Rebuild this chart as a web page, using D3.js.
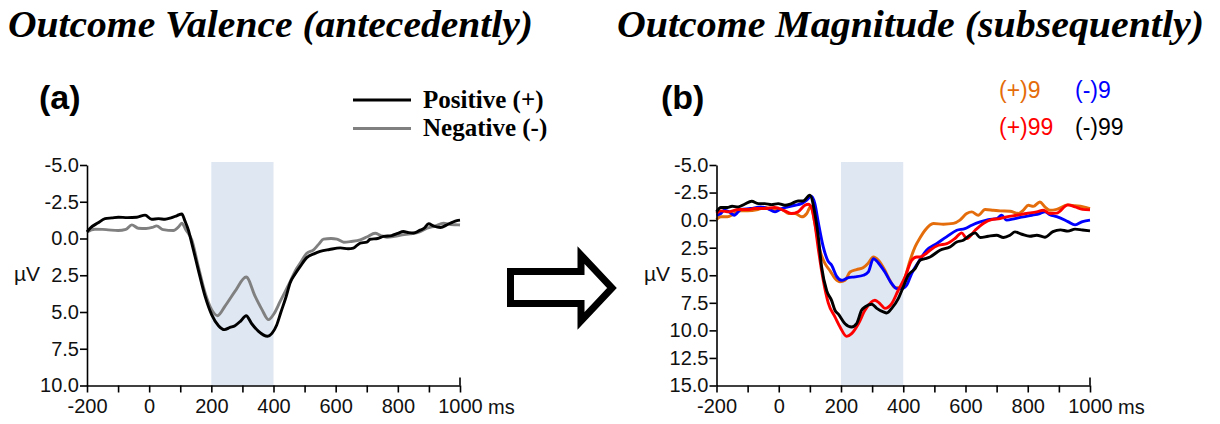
<!DOCTYPE html>
<meta charset="utf-8">
<style>
body { margin: 0; background: #fff; }
.tick text, .lbl { font-family: "Liberation Sans", Arial, sans-serif; font-size: 20px; fill: #111; }
.domain, .tick line { stroke: #000; stroke-width: 1.6px; }
.title { font-family: "Liberation Serif", "Times New Roman", serif; font-weight: bold; font-style: italic; font-size: 38px; }
.panel { font-family: "Liberation Sans", Arial, sans-serif; font-weight: bold; font-size: 34px; }
.leg { font-family: "Liberation Serif", "Times New Roman", serif; font-weight: bold; font-size: 25px; }
.leg2 { font-family: "Liberation Sans", Arial, sans-serif; font-size: 23px; }
.line { fill: none; stroke-width: 2.9px; stroke-linejoin: round; }
</style>
<body>
<script src="https://d3js.org/d3.v7.min.js"></script>
<script>

// ---- data (ms, µV) ----
var xTicks = [-200, 0, 200, 400, 600, 800, 1000];
var xMinor = d3.range(-200, 1001, 100);
var yTicksA = [-5, -2.5, 0, 2.5, 5, 7.5, 10];
var yTicksB = [-5, -2.5, 0, 2.5, 5, 7.5, 10, 12.5, 15];
var window_ms = [200, 400];

var positive = [[-200,-0.45],[-190,-0.7],[-164,-1.07],[-142,-1.35],[-120,-1.4],[-99,-1.45],[-70,-1.42],[-40,-1.45],[-13,-1.59],[8,-1.31],[30,-1.35],[51,-1.31],[70,-1.4],[90,-1.56],[105,-1.67],[115,-1.2],[126,-0.59],[137,0.31],[158,2.13],[180,3.94],[201,5.18],[223,5.93],[242,6.2],[260,6.05],[276,5.93],[295,5.6],[312,5.25],[330,5.8],[351,6.3],[381,6.65],[395,6.45],[410,5.9],[424,5.0],[440,4.0],[454,3.0],[470,2.4],[486,1.9],[507,1.3],[530,1.05],[550,0.88],[580,0.75],[615,0.64],[640,0.7],[657,0.65],[679,0.31],[700,0.25],[711,0.05],[735,0.0],[754,-0.14],[780,-0.2],[800,-0.35],[818,-0.48],[835,-0.4],[851,-0.37],[870,-0.55],[885,-0.7],[899,-1.0],[915,-0.85],[937,-0.75],[960,-0.95],[975,-1.1],[990,-1.22],[1000,-1.25]];

var negative = [[-200,-0.45],[-175,-0.63],[-150,-0.62],[-132,-0.59],[-100,-0.54],[-75,-0.62],[-56,-0.93],[-35,-0.7],[-10,-0.68],[10,-0.75],[24,-0.86],[45,-0.6],[78,-0.54],[95,-0.8],[105,-1.04],[118,-0.6],[137,0.09],[158,1.9],[180,3.7],[201,4.84],[220,5.25],[244,4.6],[276,3.6],[312,2.62],[341,3.94],[363,4.84],[384,5.52],[402,5.1],[421,4.3],[438,3.6],[454,2.92],[470,2.2],[486,1.67],[507,1.0],[529,0.77],[545,0.4],[561,0.04],[585,0.0],[604,0.04],[626,0.25],[650,0.2],[679,0.09],[700,-0.1],[727,-0.36],[745,-0.2],[765,-0.09],[790,-0.15],[815,-0.25],[840,-0.32],[870,-0.45],[894,-0.7],[920,-0.85],[947,-1.04],[970,-0.95],[995,-0.93],[1000,-0.92]];

var pos9 = [[-200,-0.05],[-186,-0.3],[-165,-0.3],[-143,-0.6],[-122,-0.84],[-100,-0.84],[-67,-0.96],[-45,-1.14],[-23,-0.96],[9,-0.96],[31,-0.6],[52,-0.6],[74,-0.3],[90,-0.6],[103,-1.26],[116,0.3],[130,2.5],[148,3.9],[165,4.6],[181,5.3],[197,5.6],[213,5.46],[229,4.7],[250,4.49],[272,4.3],[288,3.88],[304,3.34],[320,3.64],[341,4.55],[357,5.46],[374,6.12],[390,6.12],[406,5.15],[422,3.64],[438,2.43],[454,1.6],[470,0.92],[497,0.31],[529,0.37],[561,0.3],[582,0.0],[604,-0.6],[620,-0.75],[641,-0.44],[663,-0.96],[689,-0.9],[711,-0.84],[743,-0.8],[770,-0.6],[786,-0.9],[802,-1.35],[818,-1.25],[839,-1.65],[855,-1.2],[871,-0.9],[893,-0.98],[929,-1.38],[952,-1.3],[976,-1.22],[1000,-1.05]];

var neg9 = [[-200,-0.44],[-186,-0.6],[-175,-0.9],[-159,-0.75],[-143,-0.44],[-122,-0.96],[-90,-1.05],[-58,-1.2],[-36,-1.05],[-12,-0.75],[9,-1.05],[30,-1.2],[52,-1.35],[73,-1.5],[89,-1.8],[104,-2.17],[116,-1.5],[127,0.2],[143,2.43],[158,3.7],[170,4.1],[186,5.1],[202,5.46],[224,5.21],[245,5.15],[272,5.0],[288,4.7],[304,3.49],[320,3.88],[341,4.7],[363,5.76],[379,6.21],[395,6.21],[411,5.9],[427,4.85],[449,3.8],[475,2.73],[507,2.13],[539,1.52],[572,0.92],[598,0.77],[620,0.46],[647,0.16],[673,-0.05],[700,-0.14],[716,-0.44],[732,0.0],[759,-0.14],[786,-0.3],[813,-0.44],[839,-0.6],[855,-0.75],[871,-0.5],[893,-0.32],[929,0.13],[952,0.43],[976,0.13],[1000,0.0]];

var pos99 = [[-200,-0.6],[-186,-0.84],[-160,-0.75],[-130,-0.96],[-100,-0.96],[-78,-1.05],[-45,-1.05],[-13,-1.14],[20,-0.84],[41,-0.6],[62,-0.75],[84,-1.35],[95,-1.44],[106,-1.05],[116,0.3],[127,2.6],[143,5.45],[159,7.5],[181,8.8],[197,9.7],[218,10.54],[234,10.3],[256,9.4],[277,8.18],[309,7.27],[325,7.57],[341,8.0],[363,7.57],[384,6.36],[406,5.15],[427,3.64],[443,3.34],[454,3.34],[470,3.1],[486,2.73],[513,2.28],[540,2.13],[566,1.67],[588,1.16],[604,1.67],[631,0.92],[657,0.31],[684,-0.05],[711,-0.14],[732,-0.3],[764,-0.44],[796,-0.6],[829,-0.75],[850,-0.9],[871,-0.6],[893,-0.63],[929,-1.38],[952,-1.2],[976,-0.98],[1000,-0.93]];

var neg99 = [[-200,-0.75],[-186,-1.14],[-165,-1.14],[-150,-1.26],[-130,-1.2],[-110,-1.44],[-87,-1.71],[-65,-1.5],[-45,-1.5],[-23,-1.41],[-2,-1.5],[20,-1.35],[41,-1.5],[62,-1.74],[78,-1.74],[100,-2.26],[116,-0.6],[127,1.5],[138,4.3],[154,6.4],[170,7.3],[181,8.2],[191,8.5],[213,9.4],[234,9.7],[250,9.39],[266,8.18],[277,7.88],[299,7.63],[315,8.0],[336,8.33],[347,8.42],[363,8.0],[384,7.12],[400,6.06],[416,5.0],[438,4.4],[454,3.64],[470,3.5],[486,3.34],[518,2.73],[550,2.43],[572,1.98],[593,1.82],[614,1.37],[631,1.16],[647,1.58],[673,1.46],[700,1.37],[722,1.58],[743,1.37],[759,1.07],[781,1.28],[807,1.46],[829,1.37],[855,1.55],[881,1.04],[905,0.88],[929,1.0],[952,0.82],[976,0.9],[1000,0.97]];

var seriesA = [
  {name: "Positive (+)", color: "#000000", data: positive},
  {name: "Negative (-)", color: "#808080", data: negative}
];
var seriesB = [
  {name: "(+)9", color: "#e46c0a", data: pos9},
  {name: "(-)9", color: "#0000ff", data: neg9},
  {name: "(+)99", color: "#ff0000", data: pos99},
  {name: "(-)99", color: "#000000", data: neg99}
];

var svg = d3.select("body").append("svg")
    .attr("width", 1220)
    .attr("height", 424);

svg.append("rect").attr("width", 1220).attr("height", 424).attr("fill", "#fff");

function panel(x0, x1, yMax, yTicks, series, drawOrder) {
  var x = d3.scaleLinear().domain([-200, 1000]).range([x0, x1]);
  var y = d3.scaleLinear().domain([-5, yMax]).range([165, 385.5]);
  var g = svg.append("g");

  // shaded window
  g.append("rect")
      .attr("x", x(window_ms[0]))
      .attr("y", 162)
      .attr("width", x(window_ms[1]) - x(window_ms[0]))
      .attr("height", y(yMax) - 162)
      .attr("fill", "#dfe7f2");

  // lines
  var line = d3.line()
      .x(function(d) { return x(d[0]); })
      .y(function(d) { return y(d[1]); })
      .curve(d3.curveMonotoneX);
  drawOrder.forEach(function(i) {
    g.append("path")
        .datum(series[i].data)
        .attr("class", "line")
        .attr("stroke", series[i].color)
        .attr("d", line);
  });

  // y axis
  g.append("g")
      .attr("transform", "translate(" + x0 + ",0)")
      .call(d3.axisLeft(y).tickValues(yTicks).tickSize(7).tickSizeOuter(0).tickPadding(1)
        .tickFormat(function(d) { return d.toFixed(1); }));

  // x axis with minor ticks
  var xa = g.append("g")
      .attr("transform", "translate(0," + y(yMax) + ")")
      .call(d3.axisBottom(x).tickValues(xMinor).tickSize(7).tickSizeOuter(0).tickPadding(6)
        .tickFormat(function(d) { return xTicks.indexOf(d) >= 0 ? d : ""; }));
  xa.append("line")
      .attr("x1", x(1000)).attr("x2", x(1000))
      .attr("y1", -8).attr("y2", 0)
      .attr("stroke", "#000").attr("stroke-width", 1.6);

  g.append("text").attr("class", "lbl")
      .attr("x", x(1000) + 28).attr("y", y(yMax) + 28)
      .text("ms");
  return {x: x, y: y};
}

var a = panel(87, 460, 10, yTicksA, seriesA, [1, 0]);
var b = panel(716.5, 1090, 15, yTicksB, seriesB, [0, 1, 2, 3]);

svg.append("text").attr("class", "lbl").style("font-size", "21px")
    .attr("x", 14).attr("y", 281).text("µV");
svg.append("text").attr("class", "lbl").style("font-size", "21px")
    .attr("x", 644).attr("y", 281).text("µV");

// titles
svg.append("text").attr("class", "title")
    .attr("x", 8).attr("y", 37)
    .attr("textLength", 525).attr("lengthAdjust", "spacingAndGlyphs")
    .text("Outcome Valence (antecedently)");
svg.append("text").attr("class", "title")
    .attr("x", 617).attr("y", 37)
    .attr("textLength", 587).attr("lengthAdjust", "spacingAndGlyphs")
    .text("Outcome Magnitude (subsequently)");

svg.append("text").attr("class", "panel").attr("x", 39).attr("y", 109).text("(a)");
svg.append("text").attr("class", "panel").attr("x", 661).attr("y", 109).text("(b)");

// legend (a)
seriesA.forEach(function(s, i) {
  var yy = 100 + i * 28.5;
  svg.append("line")
      .attr("x1", 353).attr("x2", 411).attr("y1", yy).attr("y2", yy)
      .attr("stroke", s.color).attr("stroke-width", 3);
  svg.append("text").attr("class", "leg")
      .attr("x", 423).attr("y", yy + 7.5).text(s.name);
});

// legend (b)
var legPos = [[999, 98], [1075, 98], [999, 135], [1075, 135]];
seriesB.forEach(function(s, i) {
  svg.append("text").attr("class", "leg2")
      .attr("x", legPos[i][0]).attr("y", legPos[i][1])
      .attr("fill", s.color).text(s.name);
});

// arrow between panels
svg.append("path")
    .attr("d", "M510.5,271.5 L581,271.5 L581,255 L612,288 L581,321 L581,303.5 L510.5,303.5 Z")
    .attr("fill", "none")
    .attr("stroke", "#000")
    .attr("stroke-width", 7)
    .attr("stroke-linejoin", "miter");

</script>
</body>
